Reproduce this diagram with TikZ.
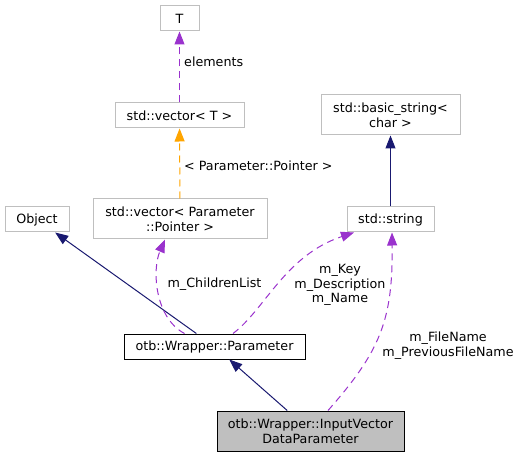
\documentclass[tikz,border=0pt]{standalone}
\usepackage{fontspec}
\setmainfont{DejaVu Sans}
\usetikzlibrary{arrows.meta}
\definecolor{edgeblue}{HTML}{191970}
\definecolor{edgepurple}{HTML}{9A32CD}
\definecolor{edgeorange}{HTML}{FFA500}
\definecolor{boxgray}{HTML}{BFBFBF}
\tikzset{
  cls/.style={draw=boxgray, line width=1pt, fill=white, align=center, inner sep=0pt},
  clsmain/.style={cls, draw=black},
  inherit/.style={edgeblue, line width=1pt, -{Triangle[length=13pt,width=10pt]}},
  uses/.style={edgepurple, line width=1pt, dash pattern=on 7pt off 5pt, -{Triangle[length=13pt,width=10pt]}},
  templ/.style={edgeorange, line width=1pt, dash pattern=on 7pt off 5pt, -{Triangle[length=13pt,width=10pt]}},
  lbl/.style={align=center, inner sep=0pt}
}
\begin{document}
\begin{tikzpicture}[x=1pt, y=-1pt, font=\fontsize{12.7}{14.8}\selectfont]
\useasboundingbox (0,0) rectangle (525,457);
\node[cls, minimum width=39pt, minimum height=25pt] (T) at (179.5,18.5) {T};
\node[cls, minimum width=129pt, minimum height=25pt] (vecT) at (179.5,115.5) {std::vector< T >};
\node[cls, minimum width=174pt, minimum height=40pt] (vecPP) at (180,219) {std::vector< Parameter\\::Pointer >};
\node[cls, minimum width=64pt, minimum height=25pt] (object) at (37,219.5) {Object};
\node[cls, minimum width=139pt, minimum height=40pt] (bstring) at (390.5,115) {std::basic\_string<\\char >};
\node[cls, minimum width=87pt, minimum height=25pt] (string) at (390.5,219.5) {std::string};
\node[clsmain, minimum width=181pt, minimum height=25pt] (param) at (214.5,346.5) {otb::Wrapper::Parameter};
\node[clsmain, fill=boxgray, minimum width=187pt, minimum height=40pt] (ivdp) at (310.5,431) {otb::Wrapper::InputVector\\DataParameter};
% edges
\draw[uses] (vecT) -- (T);
\draw[templ] (vecPP) -- (vecT);
\draw[inherit] (string) -- (bstring);
\draw[inherit] (param) -- (object);
\draw[inherit] (ivdp) -- (param);
\draw[uses] ([xshift=-30pt]param.north) .. controls +(-30,-16) and +(-13,30) .. ([xshift=-15pt]vecPP.south);
\draw[uses] ([xshift=18.5pt]param.north) .. controls +(32,-24) and +(-69,23) .. ([xshift=-36.5pt]string.south);
\draw[uses] ([xshift=17.5pt]ivdp.north) .. controls +(52,-59) and +(1,88) .. ([xshift=1.5pt]string.south);
% labels
\node[lbl, anchor=west] (lelem) at (184,62) {elements};
\node[lbl, anchor=west] (lpp) at (184,166) {< Parameter::Pointer >};
\node[lbl] (lchild) at (214.5,284) {m\_ChildrenList};
\node[lbl] (lkey) at (340,285) {m\_Key\\m\_Description\\m\_Name};
\node[lbl] (lfile) at (448,346) {m\_FileName\\m\_PreviousFileName};
\end{tikzpicture}
\end{document}
